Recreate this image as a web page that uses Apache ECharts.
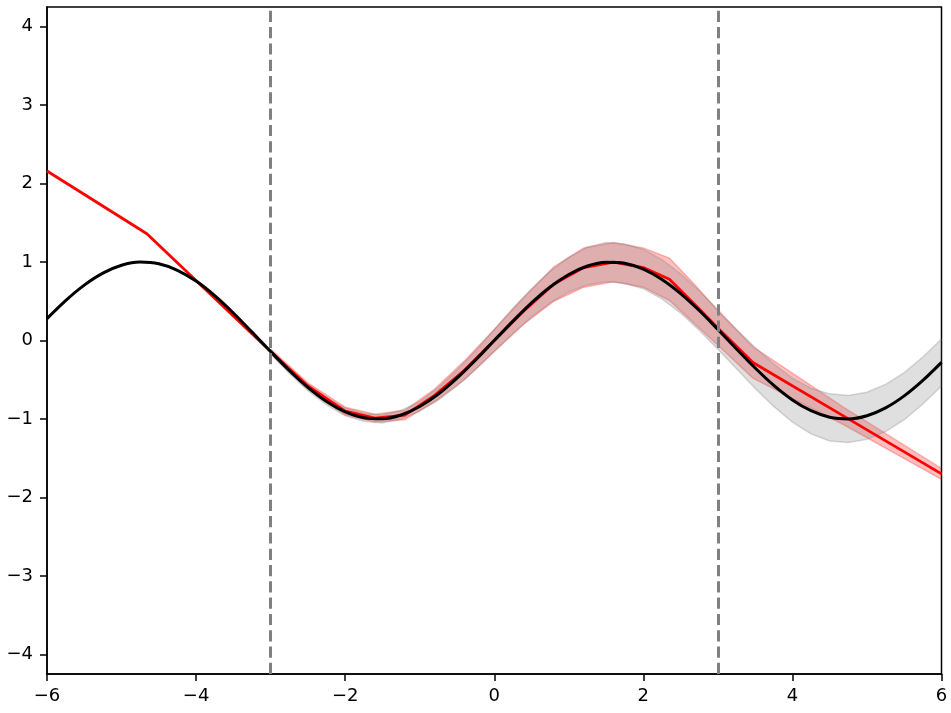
<!DOCTYPE html>
<html>
<head>
<meta charset="utf-8">
<script src="https://cdn.jsdelivr.net/npm/echarts@6/dist/echarts.min.js"></script>
<style>html,body{margin:0;padding:0;background:#fff}#c{width:951px;height:713px}</style>
</head>
<body>
<div id="c"></div>
<script>
// ---- data ----
const xTicks = [-6, -4, -2, 0, 2, 4, 6];
const yTicks = [-4, -3, -2, -1, 0, 1, 2, 3, 4];
const boundaryX = [-3, 3];

// true function (black)
const trueX = [-6,-5.75,-5.5,-5.25,-5,-4.75,-4.5,-4.25,-4,-3.75,-3.5,-3.25,-3,-2.75,-2.5,-2.25,-2,-1.75,-1.5,-1.25,-1,-0.75,-0.5,-0.25,0,0.25,0.5,0.75,1,1.25,1.5,1.75,2,2.25,2.5,2.75,3,3.25,3.5,3.75,4,4.25,4.5,4.75,5,5.25,5.5,5.75,6];
const trueY = [0.279,0.509,0.706,0.859,0.959,0.999,0.978,0.895,0.757,0.572,0.351,0.108,-0.141,-0.382,-0.598,-0.778,-0.909,-0.984,-0.997,-0.949,-0.841,-0.682,-0.479,-0.247,0,0.247,0.479,0.682,0.841,0.949,0.997,0.984,0.909,0.778,0.598,0.382,0.141,-0.108,-0.351,-0.572,-0.757,-0.895,-0.978,-0.999,-0.959,-0.859,-0.706,-0.509,-0.279];

// gray band around the true function
const grayX  = [-3,-2.75,-2.5,-2.25,-2,-1.75,-1.5,-1.25,-1,-0.75,-0.5,-0.25,0,0.25,0.5,0.75,1,1.25,1.5,1.75,2,2.25,2.5,2.75,3,3.25,3.5,3.75,4,4.25,4.5,4.75,5,5.25,5.5,5.75,6];
const grayLo = [-0.17,-0.42,-0.64,-0.82,-0.96,-1.03,-1.05,-1.00,-0.90,-0.76,-0.58,-0.37,-0.14,0.09,0.30,0.48,0.62,0.71,0.75,0.73,0.66,0.53,0.35,0.13,-0.11,-0.36,-0.61,-0.84,-1.04,-1.19,-1.28,-1.30,-1.26,-1.16,-1.01,-0.81,-0.58];
const grayHi = [-0.11,-0.35,-0.56,-0.73,-0.86,-0.93,-0.95,-0.89,-0.78,-0.60,-0.38,-0.13,0.14,0.41,0.66,0.88,1.06,1.19,1.25,1.23,1.16,1.03,0.85,0.63,0.39,0.14,-0.09,-0.30,-0.48,-0.61,-0.68,-0.70,-0.66,-0.56,-0.41,-0.21,0.02];

// model prediction (red)
const predX = [-6,-4.66,-3,-2.5,-2,-1.6,-1.2,-0.8,-0.4,0,0.4,0.8,1.2,1.6,2.0,2.35,2.7,3.0,3.47,4.7,6];
const predY = [2.16,1.36,-0.14,-0.58,-0.90,-0.99,-0.95,-0.70,-0.38,0.0,0.38,0.72,0.93,1.00,0.93,0.78,0.45,0.16,-0.28,-0.97,-1.70];

// red band
const bandX  = [-3,-2.5,-2,-1.6,-1.2,-0.8,-0.4,0,0.4,0.8,1.2,1.6,2.0,2.35,2.7,3.0,3.47,4.7,6];
const bandLo = [-0.17,-0.62,-0.95,-1.04,-1.01,-0.78,-0.50,-0.14,0.21,0.50,0.68,0.75,0.68,0.51,0.20,-0.06,-0.48,-1.08,-1.77];
const bandHi = [-0.11,-0.54,-0.85,-0.94,-0.89,-0.62,-0.26,0.14,0.55,0.94,1.18,1.25,1.18,1.05,0.70,0.38,-0.08,-0.86,-1.63];

const pairs = (xs, ys) => xs.map((x, i) => [x, ys[i]]);
const triples = (xs, lo, hi) => xs.map((x, i) => [x, lo[i], hi[i]]);
const fmt = v => String(v).replace('-', '\u2212');

function bandSeries(xs, lo, hi, fill, edge, z) {
  const rows = triples(xs, lo, hi);
  return {
    type: 'custom', z: z, silent: true,
    data: rows,
    encode: {x: 0, y: [1, 2]},
    renderItem: function (params, api) {
      if (params.dataIndex !== 0) return null;
      const upper = rows.map(r => api.coord([r[0], r[2]]));
      const lower = rows.map(r => api.coord([r[0], r[1]])).reverse();
      return {
        type: 'group',
        children: [
          {type: 'polygon', shape: {points: upper.concat(lower)}, style: {fill: fill, stroke: null}},
          {type: 'polyline', shape: {points: upper}, style: {fill: null, stroke: edge, lineWidth: 1.5}},
          {type: 'polyline', shape: {points: lower}, style: {fill: null, stroke: edge, lineWidth: 1.5}}
        ]
      };
    }
  };
}

const FONT = 'DejaVu Sans';
const chart = echarts.init(document.getElementById('c'), null, {renderer: 'canvas'});
chart.setOption({
  animation: false,
  backgroundColor: '#ffffff',
  grid: {left: 47, right: 9.5, top: 7, bottom: 39, show: true, borderColor: '#000', borderWidth: 1.5, outerBoundsMode: 'none', containLabel: false},
  xAxis: {
    type: 'value', min: -6, max: 6, interval: 2,
    axisLine: {show: true, onZero: false, lineStyle: {color: '#000', width: 1.5}},
    axisTick: {show: true, inside: false, length: 7, lineStyle: {color: '#000', width: 1.5}},
    axisLabel: {show: true, margin: 13, color: '#000', fontSize: 18, fontFamily: FONT, formatter: fmt, showMinLabel: true, showMaxLabel: true},
    splitLine: {show: false}
  },
  yAxis: {
    type: 'value', min: -4.25, max: 4.25,
    axisLine: {show: true, onZero: false, lineStyle: {color: '#000', width: 1.5}},
    axisTick: {show: true, inside: false, length: 7, lineStyle: {color: '#000', width: 1.5}, customValues: yTicks},
    axisLabel: {show: true, margin: 14, color: '#000', fontSize: 18, fontFamily: FONT, formatter: fmt, customValues: yTicks},
    splitLine: {show: false}
  },
  series: [
    bandSeries(bandX, bandLo, bandHi, 'rgba(255,0,0,0.25)', 'rgba(255,0,0,0.25)', 1),
    bandSeries(grayX, grayLo, grayHi, 'rgba(128,128,128,0.25)', 'rgba(128,128,128,0.3)', 2),
    {type: 'line', name: 'prediction', data: pairs(predX, predY), symbol: 'none',
      lineStyle: {color: '#ff0000', width: 2.8}, z: 3},
    {type: 'line', name: 'true', data: pairs(trueX, trueY), smooth: 0.3, symbol: 'none',
      lineStyle: {color: '#000000', width: 3}, z: 4},
    {type: 'line', name: 'bounds', data: [], symbol: 'none', z: 5,
      markLine: {silent: true, symbol: ['none', 'none'], label: {show: false},
        lineStyle: {color: '#808080', width: 3, type: [11.2, 5.1]},
        data: boundaryX.map(x => ({xAxis: x}))}}
  ]
});
</script>
</body>
</html>
